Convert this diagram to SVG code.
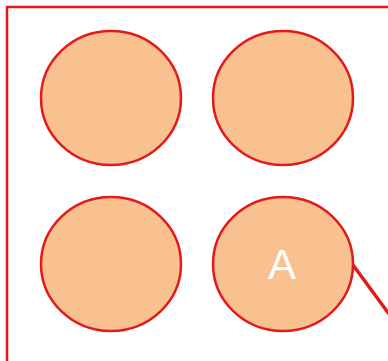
<svg xmlns="http://www.w3.org/2000/svg" width="388" height="361" viewBox="0 0 388 361">
<style>
.c{fill:#f9c190;stroke:#e3191c;stroke-width:2.5}
.frame{fill:none;stroke:#e3191c;stroke-width:2.5}
.lbl{font-family:"Liberation Sans",Arial,sans-serif;font-size:42px;fill:#ffffff;text-anchor:middle}
</style>
<rect class="frame" x="7" y="7" width="420" height="400"/>
<g id="connectors">
<line x1="353" y1="265" x2="400" y2="329" stroke="#e3191c" stroke-width="3.5"/>
</g>
<g id="n1"><ellipse class="c" cx="111" cy="98" rx="70" ry="67"/></g>
<g id="n2"><ellipse class="c" cx="283" cy="98" rx="70" ry="67"/></g>
<g id="n3"><ellipse class="c" cx="111" cy="264" rx="70" ry="67"/></g>
<g id="n4"><ellipse class="c" cx="283" cy="264" rx="70" ry="67"/><text class="lbl" x="282" y="279">A</text></g>
</svg>
